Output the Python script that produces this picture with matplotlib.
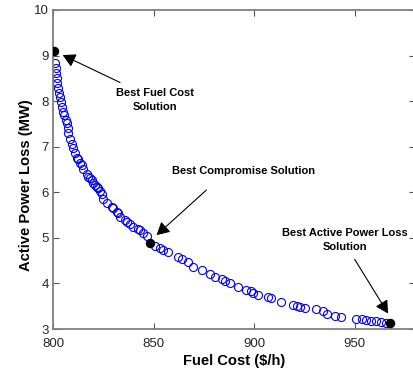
import matplotlib
matplotlib.use("Agg")
import matplotlib.pyplot as plt

# Pareto front (fuel cost $/h, active power loss MW)
fuel_cost = [801.0, 801.3, 801.5, 801.8, 802.1, 802.6, 803.0, 803.5, 804.0, 804.6,
             805.1, 805.6, 806.3, 806.8, 807.3, 807.6, 808.4, 809.3, 810.1, 810.9,
             812.1, 812.6, 813.4, 814.3, 814.8, 816.7, 817.5, 818.4, 819.2, 820.0,
             820.9, 821.7, 822.2, 823.3, 824.2, 825.0, 826.7, 829.2, 830.0, 831.6,
             832.5, 833.3, 835.8, 836.6, 838.3, 839.9, 842.4, 843.2, 844.9, 846.5,
             850.7, 853.2, 854.8, 857.3, 862.2, 863.9, 867.2, 869.7, 873.9, 878.0,
             880.5, 883.8, 885.4, 887.9, 892.0, 896.2, 898.7, 899.5, 902.0, 907.0,
             908.6, 913.6, 919.4, 921.1, 922.7, 925.2, 931.0, 934.3, 936.0, 940.0,
             943.4, 950.9, 953.4, 955.8, 958.3, 960.8, 963.3, 965.4]
power_loss = [8.83, 8.72, 8.61, 8.50, 8.39, 8.28, 8.17, 8.10, 7.99, 7.88,
              7.77, 7.70, 7.59, 7.51, 7.40, 7.29, 7.18, 7.07, 6.97, 6.86,
              6.75, 6.72, 6.64, 6.60, 6.50, 6.40, 6.34, 6.31, 6.27, 6.20,
              6.16, 6.12, 6.09, 6.02, 5.96, 5.85, 5.76, 5.68, 5.65, 5.57,
              5.55, 5.46, 5.39, 5.35, 5.30, 5.24, 5.19, 5.17, 5.11, 5.04,
              4.82, 4.77, 4.73, 4.70, 4.57, 4.54, 4.46, 4.37, 4.30, 4.20,
              4.15, 4.10, 4.06, 4.00, 3.93, 3.86, 3.83, 3.80, 3.75, 3.70,
              3.67, 3.60, 3.53, 3.51, 3.49, 3.47, 3.43, 3.40, 3.33, 3.29,
              3.26, 3.23, 3.21, 3.20, 3.18, 3.17, 3.15, 3.14]

best_labels = ["Best Fuel Cost\nSolution", "Best Compromise Solution",
               "Best Active Power Loss\nSolution"]
best_x = [800.5, 848.2, 967.8]
best_y = [9.10, 4.89, 3.125]
label_x = [850.7, 894.9, 945.0]
label_y = [8.02, 6.47, 4.96]
arrow_tail_x = [833.3, 876.3, 950.0]
arrow_tail_y = [8.41, 6.05, 4.53]
arrow_head_x = [804.8, 851.5, 966.6]
arrow_head_y = [9.01, 5.06, 3.34]

x_ticks = [800, 850, 900, 950]
y_ticks = [3, 4, 5, 6, 7, 8, 9, 10]

plt.rcParams['font.family'] = ['Liberation Sans', 'DejaVu Sans']

fig = plt.figure(figsize=(4.13, 3.71), dpi=100)
ax = fig.add_axes([53/413, 42/371, 362/413, 319/371])

ax.plot(fuel_cost, power_loss, linestyle='none', marker='o', markersize=5.8,
        markerfacecolor='none', markeredgecolor='#0000ff', markeredgewidth=0.8)
ax.plot(best_x, best_y, linestyle='none', marker='o', markersize=5.8,
        color='black', zorder=5)

for lab, lx, ly, tx, ty, hx, hy in zip(best_labels, label_x, label_y,
                                       arrow_tail_x, arrow_tail_y,
                                       arrow_head_x, arrow_head_y):
    ax.text(lx, ly, lab, ha='center', va='center', fontsize=8.0,
            fontweight='bold', linespacing=1.5)
    ax.annotate('', xy=(hx, hy), xytext=(tx, ty),
                arrowprops=dict(arrowstyle='-|>,head_length=0.55,head_width=0.3',
                                color='black', lw=0.8,
                                mutation_scale=14, shrinkA=0, shrinkB=0))

ax.set_xlim(800, 980)
ax.set_ylim(3, 10)
ax.set_xticks(x_ticks)
ax.set_yticks(y_ticks)
ax.tick_params(direction='in', top=True, right=True, length=4, width=0.8,
               color='#555555', labelsize=9.5, labelcolor='#262626', pad=3)
ax.tick_params(axis='x', pad=6.5)
for s in ax.spines.values():
    s.set_color('#7f7f7f')
    s.set_linewidth(1.3)

ax.set_xlabel('Fuel Cost ($/h)', fontsize=10.6, fontweight='bold')
ax.set_ylabel('Active Power Loss (MW)', fontsize=10.6, fontweight='bold')
ax.xaxis.set_label_coords(0.5, -0.10)
ax.yaxis.set_label_coords(-0.075, 0.451)
ax.xaxis.label.set_va('center')
ax.yaxis.label.set_va('center')

fig.savefig('out.png', dpi=100)
